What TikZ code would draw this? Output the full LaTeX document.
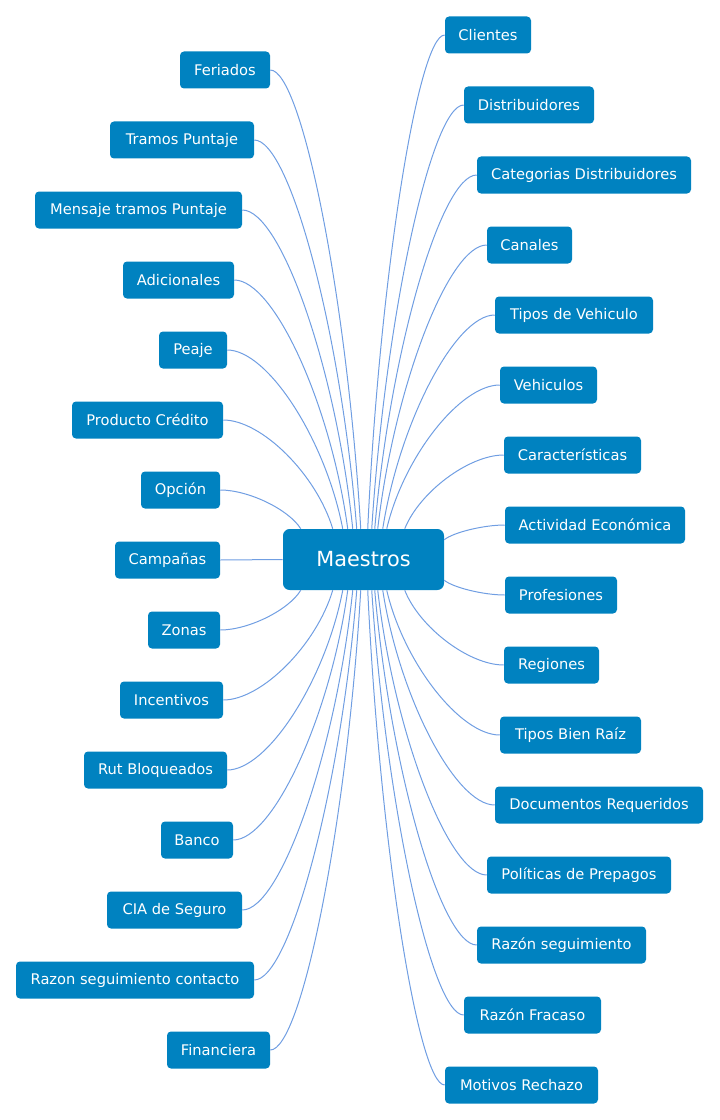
\documentclass[tikz,border=0pt]{standalone}
\usepackage{fontspec}
\setmainfont{DejaVu Sans}
\usetikzlibrary{calc}
\definecolor{nodeblue}{RGB}{0,130,192}
\definecolor{linkblue}{RGB}{112,158,226}
\tikzset{
  leafbox/.style={fill=nodeblue, text=white, rounded corners=3pt, inner xsep=0pt, inner ysep=0pt,
    minimum height=27.75pt, font=\fontsize{11}{13}\selectfont},
  hubbox/.style={fill=nodeblue, text=white, rounded corners=5pt, inner sep=0pt,
    minimum width=120.75pt, minimum height=45.75pt, font=\fontsize{15.6}{18}\selectfont},
  link/.style={draw=linkblue, line width=0.75pt}
}
\newcommand\leaf[5]{\node[leafbox, minimum width={(#3-#2)*0.75pt}] (#1) at ({(#2+#3)/2},#4) {#5};}
\newcommand\conn[2]{\draw[link] let \p1=(#1), \p2=(#2) in (\p1) .. controls ({\x1+0.35*(\x2-\x1)},{\y1}) and ({\x2-0.15*(\x2-\x1)},{\y2-0.5*(\y2-\y1)}) .. (\p2);}
\begin{document}
\begin{tikzpicture}[x=0.75pt,y=-0.75pt]
\useasboundingbox (0,0) rectangle (720,1120);
% central node
\node[hubbox] (m) at (363.5,559.5) {Maestros};
% left
\leaf{fer}{180}{270}{70}{Feriados}
\leaf{tra}{110}{254}{140}{Tramos Puntaje}
\leaf{men}{35}{242}{210}{Mensaje tramos Puntaje}
\leaf{adi}{123}{234}{280}{Adicionales}
\leaf{pea}{159}{227}{350}{Peaje}
\leaf{pro}{72}{223}{420}{Producto Crédito}
\leaf{opc}{141}{220}{490}{Opción}
\leaf{cam}{115}{220}{560}{Campañas}
\leaf{zon}{148}{220}{630}{Zonas}
\leaf{inc}{120}{223}{700}{Incentivos}
\leaf{rut}{84}{227}{770}{Rut Bloqueados}
\leaf{ban}{161}{233}{840}{Banco}
\leaf{cia}{107}{242}{910}{CIA de Seguro}
\leaf{raz}{16}{254}{980}{Razon seguimiento contacto}
\leaf{fin}{167}{270}{1050}{Financiera}
% right
\leaf{cli}{445}{531}{35}{Clientes}
\leaf{dis}{464}{594}{105}{Distribuidores}
\leaf{cat}{477}{691}{175}{Categorias Distribuidores}
\leaf{can}{487}{572}{245}{Canales}
\leaf{tip}{495}{653}{315}{Tipos de Vehiculo}
\leaf{veh}{500}{597}{385}{Vehiculos}
\leaf{car}{504}{641}{455}{Características}
\leaf{act}{505}{685}{525}{Actividad Económica}
\leaf{prf}{505}{617}{595}{Profesiones}
\leaf{reg}{504}{599}{665}{Regiones}
\leaf{tbr}{500}{641}{735}{Tipos Bien Raíz}
\leaf{doc}{495}{703}{805}{Documentos Requeridos}
\leaf{pol}{487}{671}{875}{Políticas de Prepagos}
\leaf{rse}{477}{646}{945}{Razón seguimiento}
\leaf{rfr}{464}{601}{1015}{Razón Fracaso}
\leaf{mot}{445}{598}{1085}{Motivos Rechazo}
% connectors left
\conn{fer.east}{$(m.north west)+(78,0)$}
\conn{tra.east}{$(m.north west)+(74,0)$}
\conn{men.east}{$(m.north west)+(70,0)$}
\conn{adi.east}{$(m.north west)+(65,0)$}
\conn{pea.east}{$(m.north west)+(60,0)$}
\conn{pro.east}{$(m.north west)+(50,0)$}
\conn{opc.east}{$(m.north west)+(18,0)$}
\draw[link] (cam.east) -- (m.west);
\conn{zon.east}{$(m.south west)+(18,0)$}
\conn{inc.east}{$(m.south west)+(50,0)$}
\conn{rut.east}{$(m.south west)+(60,0)$}
\conn{ban.east}{$(m.south west)+(65,0)$}
\conn{cia.east}{$(m.south west)+(70,0)$}
\conn{raz.east}{$(m.south west)+(74,0)$}
\conn{fin.east}{$(m.south west)+(78,0)$}
% connectors right
\conn{cli.west}{$(m.north west)+(85,0)$}
\conn{dis.west}{$(m.north west)+(89,0)$}
\conn{cat.west}{$(m.north west)+(92,0)$}
\conn{can.west}{$(m.north west)+(95,0)$}
\conn{tip.west}{$(m.north west)+(100,0)$}
\conn{veh.west}{$(m.north west)+(104,0)$}
\conn{car.west}{$(m.north west)+(122,0)$}
\conn{act.west}{$(m.north east)+(0,11)$}
\conn{prf.west}{$(m.south east)+(0,-10)$}
\conn{reg.west}{$(m.south west)+(122,0)$}
\conn{tbr.west}{$(m.south west)+(104,0)$}
\conn{doc.west}{$(m.south west)+(100,0)$}
\conn{pol.west}{$(m.south west)+(95,0)$}
\conn{rse.west}{$(m.south west)+(92,0)$}
\conn{rfr.west}{$(m.south west)+(89,0)$}
\conn{mot.west}{$(m.south west)+(85,0)$}
\end{tikzpicture}
\end{document}
